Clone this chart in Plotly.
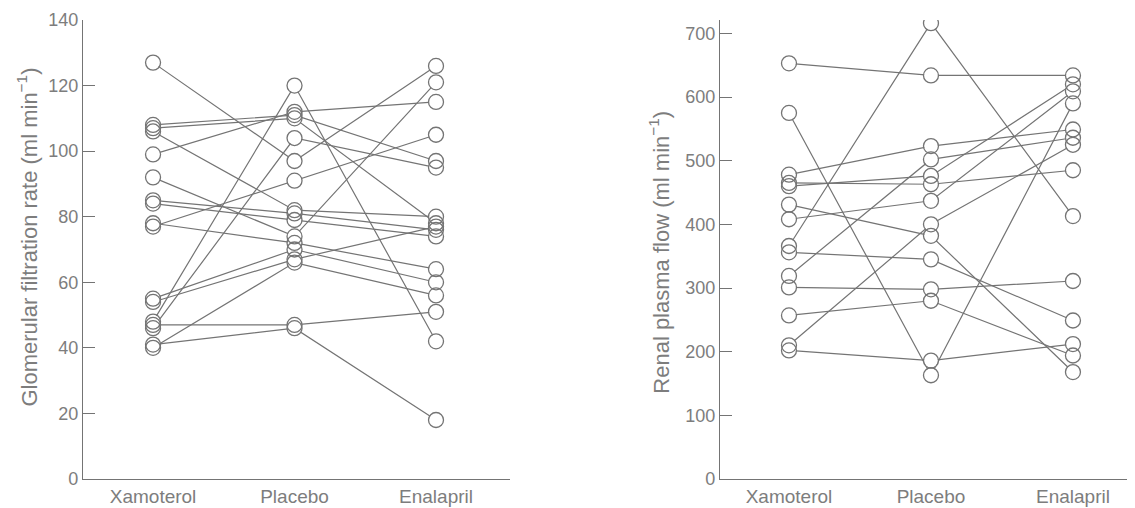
import plotly.graph_objects as go

categories = ["Xamoterol", "Placebo", "Enalapril"]

# Glomerular filtration rate (ml/min), one entry per patient
gfr_xamoterol = [127, 108, 107, 106, 99, 92, 85, 84, 78, 77, 55, 54, 48, 46, 47, 41, 40]
gfr_placebo   = [97, 111, 110, 82, 112, 74, 81, 79, 72, 91, 70, 67, 120, 104, 47, 46, 66]
gfr_enalapril = [126, 97, 78, 80, 115, 121, 76, 74, 64, 105, 60, 77, 42, 95, 51, 18, 56]

# Renal plasma flow (ml/min), one entry per patient
rpf_xamoterol = [653, 575, 478, 465, 460, 431, 408, 366, 356, 319, 301, 257, 210, 202]
rpf_placebo   = [634, 163, 523, 463, 476, 382, 437, 716, 345, 502, 298, 280, 400, 186]
rpf_enalapril = [634, 590, 549, 485, 620, 168, 609, 413, 249, 536, 311, 194, 525, 212]

GRAY = "#747474"
TXT = "#7d7d7d"
FONT = "Liberation Sans, Arial, sans-serif"

fig = go.Figure()


def add_panel(xa, ya, a, b, c):
    n = len(a)
    for i in range(n):
        fig.add_trace(go.Scatter(
            x=categories, y=[a[i], b[i], c[i]], mode="lines",
            line=dict(color=GRAY, width=1.2), xaxis=xa, yaxis=ya,
            hoverinfo="skip", showlegend=False))
    xs = [categories[0]] * n + [categories[1]] * n + [categories[2]] * n
    ys = list(a) + list(b) + list(c)
    fig.add_trace(go.Scatter(
        x=xs, y=ys, mode="markers",
        marker=dict(symbol="circle", size=14, color="white", line=dict(width=0)),
        xaxis=xa, yaxis=ya, hoverinfo="skip", showlegend=False))
    fig.add_trace(go.Scatter(
        x=xs, y=ys, mode="markers",
        marker=dict(symbol="circle-open", size=15, color=GRAY, line=dict(width=1.3, color=GRAY)),
        xaxis=xa, yaxis=ya, showlegend=False))


add_panel("x", "y", gfr_xamoterol, gfr_placebo, gfr_enalapril)
add_panel("x2", "y2", rpf_xamoterol, rpf_placebo, rpf_enalapril)

line_common = dict(showline=True, linecolor=GRAY, linewidth=1.3, showgrid=False,
                   zeroline=False, automargin=False)
ytick_font = dict(family=FONT, size=18, color=TXT)
xtick_font = dict(family=FONT, size=19, color=TXT)

fig.update_layout(
    width=1127, height=500,
    margin=dict(l=75, r=0, t=12, b=29),
    paper_bgcolor="white", plot_bgcolor="white",
    font=dict(family=FONT, color=TXT),
    xaxis=dict(domain=[0, 0.4059], type="category", categoryorder="array",
               categoryarray=categories, range=[-0.495, 2.523], ticks="",
               tickfont=xtick_font, **line_common),
    yaxis=dict(range=[0, 140], dtick=20, ticks="inside", ticklen=12,
               tickcolor=GRAY, tickwidth=1.3, tickfont=ytick_font, **line_common),
    xaxis2=dict(domain=[0.6055, 1], type="category", categoryorder="array",
                categoryarray=categories, range=[-0.486, 2.437], ticks="",
                anchor="y2", tickfont=xtick_font, **line_common),
    yaxis2=dict(range=[0, 721], dtick=100, ticks="inside", ticklen=12,
                tickcolor=GRAY, tickwidth=1.3, anchor="x2", tickfont=ytick_font,
                **line_common),
    annotations=[
        dict(text="Glomerular filtration rate (ml min<sup>−1</sup>)", textangle=-90,
             xref="paper", yref="paper", x=(27 - 83) / 1052, y=0.526,
             xanchor="center", yanchor="middle", showarrow=False,
             font=dict(family=FONT, size=22, color=TXT)),
        dict(text="Renal plasma flow (ml min<sup>−1</sup>)", textangle=-90,
             xref="paper", yref="paper", x=(659 - 83) / 1052, y=0.493,
             xanchor="center", yanchor="middle", showarrow=False,
             font=dict(family=FONT, size=22, color=TXT)),
    ],
)

fig.write_html("out.html")
